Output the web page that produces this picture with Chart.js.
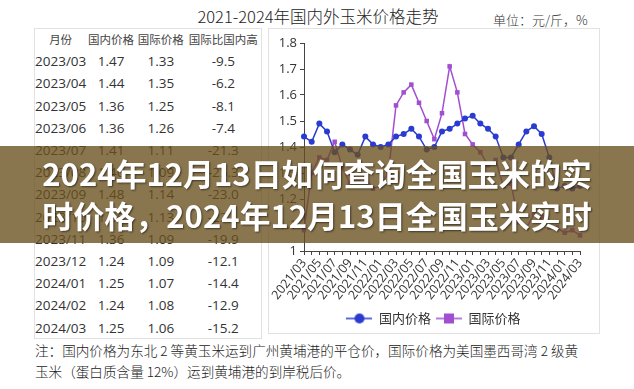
<!DOCTYPE html>
<html>
<head>
<meta charset="utf-8">
<script src="https://cdn.jsdelivr.net/npm/chart.js@4"></script>
<style>
  body { margin: 0; background: #fff; width: 634px; height: 389px; overflow: hidden; position: relative;
         font-family: "Noto Sans CJK SC", "Noto Sans", sans-serif; color: #333; }
  #title { position: absolute; left: 0; width: 636px; top: 4px; text-align: center; font-size: 16.5px; font-weight: 300; color: #222; }
  #unit { position: absolute; left: 493px; top: 10px; font-size: 13px; font-weight: 300; color: #333; }
  #tableBox { position: absolute; left: 34px; top: 28px; width: 226px; height: 309px; border: 1px solid #e2e2e2; }
  table { border-collapse: collapse; position: absolute; left: 0; top: -1px; }
  td, th { padding: 0; height: 22.2px; text-align: center; font-weight: 400; }
  th { font-size: 11.5px; color: #444; }
  td { font-size: 13.5px; font-family: "Open Sans", "Noto Sans", sans-serif; color: #333; }
  #chartBox { position: absolute; left: 268px; top: 28px; width: 330px; height: 304px; border: 1px solid #e2e2e2; }
  #chart { position: absolute; left: 0; top: 0; }
  #note { position: absolute; left: 35px; top: 340px; width: 580px; font-size: 13.6px; line-height: 21px; font-weight: 300; color: #222; }
  #banner { position: absolute; left: 0; top: 146px; width: 634px; height: 97px; background: rgba(105, 80, 28, 0.78);
            color: #fff; font-weight: 700; font-size: 31px; line-height: 42px; text-align: center;
            text-shadow: 1px 1px 2px rgba(0,0,0,0.55); }
  #banner div { white-space: nowrap; }
</style>
</head>
<body>
<div id="title">2021-2024年国内外玉米价格走势</div>
<div id="unit">单位：元/斤，%</div>

<div id="tableBox"><table id="tbl"></table></div>

<div id="chartBox"><canvas id="chart" width="330" height="306"></canvas></div>

<div id="note">注：国内价格为东北 2 等黄玉米运到广州黄埔港的平仓价，国际价格为美国墨西哥湾 2 级黄<br>玉米（蛋白质含量 12%）运到黄埔港的到岸税后价。</div>

<div id="banner">
  <div style="margin-top:6px">2024年12月13日如何查询全国玉米的实</div>
  <div>时价格，2024年12月13日全国玉米实时</div>
</div>

<script>
// monthly prices, yuan per jin
var months = ["2021/03","2021/04","2021/05","2021/06","2021/07","2021/08","2021/09","2021/10","2021/11","2021/12",
              "2022/01","2022/02","2022/03","2022/04","2022/05","2022/06","2022/07","2022/08","2022/09","2022/10",
              "2022/11","2022/12","2023/01","2023/02","2023/03","2023/04","2023/05","2023/06","2023/07","2023/08",
              "2023/09","2023/10","2023/11","2023/12","2024/01","2024/02","2024/03"];
var domestic = [1.44,1.42,1.49,1.46,1.38,1.41,1.39,1.37,1.44,1.41,
                1.40,1.41,1.44,1.45,1.47,1.44,1.39,1.40,1.46,1.47,
                1.49,1.51,1.52,1.49,1.47,1.44,1.36,1.36,1.41,1.46,
                1.48,1.45,1.36,1.24,1.25,1.24,1.25];
var international = [1.08,1.30,1.36,1.35,1.42,1.32,1.26,1.27,1.28,1.24,
                     1.25,1.30,1.56,1.61,1.64,1.57,1.50,1.43,1.53,1.71,
                     1.61,1.45,1.41,1.38,1.33,1.35,1.25,1.26,1.11,1.09,
                     1.14,1.13,1.09,1.09,1.07,1.08,1.06];
var yTicks = [1, 1.1, 1.2, 1.3, 1.4, 1.5, 1.6, 1.7, 1.8];

// table on the left
var tableHead = ["月份", "国内价格", "国际价格", "国际比国内高"];
var tableMonths = ["2023/03","2023/04","2023/05","2023/06","2023/07","2023/08","2023/09",
                   "2023/10","2023/11","2023/12","2024/01","2024/02","2024/03"];
var tableDomestic = ["1.47","1.44","1.36","1.36","1.41","1.46","1.48","1.45","1.36","1.24","1.25","1.24","1.25"];
var tableIntl = ["1.33","1.35","1.25","1.26","1.11","1.09","1.14","1.13","1.09","1.09","1.07","1.08","1.06"];
var tablePct = ["-9.5","-6.2","-8.1","-7.4","-21.3","-25.3","-23.0","-22.1","-19.9","-12.1","-14.4","-12.9","-15.2"];

var blue = "#2a3bd0";
var purple = "#a04fd0";

function buildTable() {
    var tbl = document.getElementById("tbl");
    var widths = [50, 50, 50, 76];
    var tr = document.createElement("tr");
    tableHead.forEach(function (h, i) {
        var th = document.createElement("th");
        th.textContent = h;
        th.style.width = widths[i] + "px";
        tr.appendChild(th);
    });
    tbl.appendChild(tr);
    for (var i = 0; i < tableMonths.length; i++) {
        var row = document.createElement("tr");
        [tableMonths[i], tableDomestic[i], tableIntl[i], tablePct[i]].forEach(function (v) {
            var td = document.createElement("td");
            td.textContent = v;
            row.appendChild(td);
        });
        tbl.appendChild(row);
    }
}

// little line + marker picture for the legend
function legendIcon(color, shape) {
    var c = document.createElement("canvas");
    c.width = 26; c.height = 12;
    var g = c.getContext("2d");
    g.strokeStyle = color;
    g.lineWidth = 1.5;
    g.beginPath(); g.moveTo(0, 6); g.lineTo(26, 6); g.stroke();
    g.fillStyle = color;
    if (shape === "circle") {
        g.beginPath(); g.arc(13, 6, 5, 0, Math.PI * 2); g.fill();
    } else {
        g.fillRect(8, 1, 10, 10);
    }
    return c;
}

buildTable();

var ctx = document.getElementById("chart").getContext("2d");
var iconBlue = legendIcon(blue, "circle");
var iconPurple = legendIcon(purple, "rect");

// the legend sits a bit right of the plot centre in the original
var legendShift = {
    id: "legendShift",
    afterLayout: function (chart) {
        chart.legend.left += 9;
        chart.legend.right += 9;
    }
};

var myChart = new Chart(ctx, {
    type: "line",
    data: {
        labels: months,
        datasets: [{
            label: "国内价格",
            data: domestic,
            borderColor: blue,
            backgroundColor: blue,
            borderWidth: 1.5,
            pointStyle: "circle",
            pointRadius: 3,
            pointBorderWidth: 0,
            tension: 0
        }, {
            label: "国际价格",
            data: international,
            borderColor: purple,
            backgroundColor: purple,
            borderWidth: 1.5,
            pointStyle: "rect",
            pointRadius: 3.2,
            pointBorderWidth: 0,
            tension: 0
        }]
    },
    options: {
        responsive: false,
        animation: false,
        devicePixelRatio: 1,
        layout: { padding: { left: 0, right: 19, top: 14, bottom: 0 } },
        scales: {
            y: {
                min: 1,
                max: 1.8,
                afterBuildTicks: function (s) { s.ticks = yTicks.map(function (v) { return { value: v }; }); },
                afterFit: function (s) { s.width = 35; },
                ticks: {
                    color: "#333",
                    padding: 3,
                    font: { family: "Open Sans", size: 13 },
                    callback: function (v) { return String(+v.toFixed(1)); }
                },
                grid: { drawOnChartArea: false, drawTicks: true, tickLength: 4, color: "#444" },
                border: { display: true, color: "#444", width: 1 }
            },
            x: {
                afterFit: function (s) { s.height = 56; },
                ticks: {
                    autoSkip: false,
                    maxRotation: 52,
                    minRotation: 52,
                    padding: 1,
                    color: "#333",
                    font: { family: "Open Sans", size: 12.5 },
                    callback: function (v, i) { return i % 2 === 0 ? months[i] : ""; }
                },
                grid: { drawOnChartArea: false, drawTicks: true, tickLength: 4, color: "#444" },
                border: { display: true, color: "#444", width: 1 }
            }
        },
        plugins: {
            legend: {
                position: "bottom",
                labels: {
                    usePointStyle: true,
                    pointStyleWidth: 26,
                    padding: 5,
                    color: "#333",
                    font: { family: "Noto Sans CJK SC", size: 13 },
                    generateLabels: function (chart) {
                        return chart.data.datasets.map(function (d, i) {
                            return {
                                text: d.label,
                                pointStyle: i === 0 ? iconBlue : iconPurple,
                                fillStyle: d.borderColor,
                                strokeStyle: d.borderColor,
                                lineWidth: 0,
                                fontColor: "#333",
                                datasetIndex: i
                            };
                        });
                    }
                }
            },
            tooltip: { enabled: false }
        }
    },
    plugins: [legendShift]
});
</script>
</body>
</html>
